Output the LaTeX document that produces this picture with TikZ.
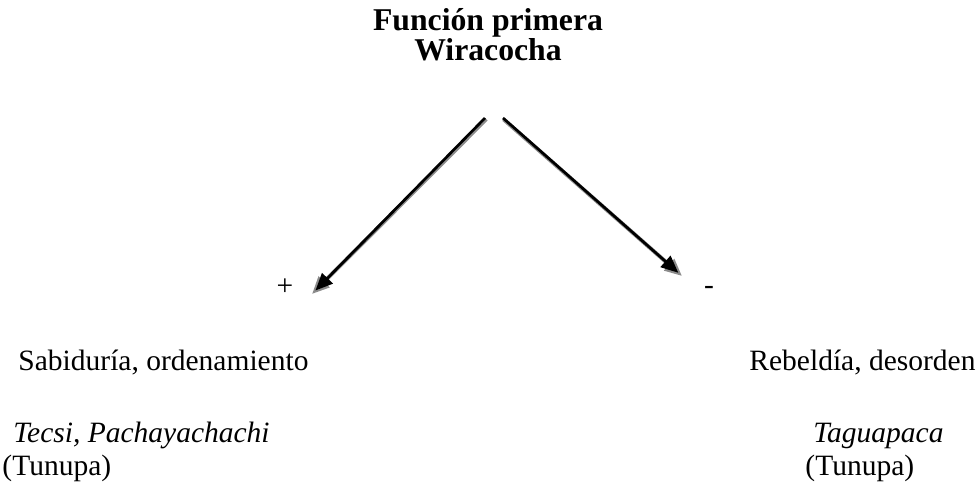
\documentclass[tikz,border=0pt]{standalone}
\usepackage{fontspec}
\setmainfont{Liberation Serif}
\usetikzlibrary{positioning}
\usetikzlibrary{arrows.meta}
\begin{document}
\begin{tikzpicture}[
    x=0.4068pt, y=-0.4068pt,
    label/.style={inner sep=0pt, font=\fontsize{12}{14}\selectfont},
    shade line/.style={draw=black!45, line width=1.6pt, -{Triangle[length=7pt, width=6pt]}},
    main line/.style={draw=black, line width=1.1pt, -{Triangle[length=7pt, width=6pt]}, shorten >=2pt}
  ]
    \useasboundingbox (0,0) rectangle (979,483);

    % Title
    \node[label, align=center, font=\fontsize{12.9}{12.2}\selectfont\bfseries] (titulo) at (488,35) {Funci\'on primera\\Wiracocha};

    % Signs
    \node[label] (mas) at (285,287) {+};
    \node[label] (menos) at (709,290) {-};

    % Arrows
    \coordinate (izqA) at (485,118);
    \coordinate (izqB) at (312,294);
    \coordinate (derA) at (503,118);
    \coordinate (derB) at (682,276);

    \draw[shade line] ([shift={(1.2,1.2)}]izqA) -- (izqB);
    \draw[main line] (izqA) -- (izqB);
    \draw[shade line] ([shift={(0.6,1.4)}]derA) -- (derB);
    \draw[main line] (derA) -- (derB);

    % Left side
    \node[label, anchor=base west] (sabiduria) at (18,370) {Sabidur\'ia, ordenamiento};
    \node[label, anchor=base west] (tecsi) at (13,442) {\itshape Tecsi, Pachayachachi};
    \node[label, anchor=base west] (tunupaI) at (2,475) {(Tunupa)};

    % Right side
    \node[label, anchor=base east] (rebeldia) at (976,370) {Rebeld\'ia, desorden};
    \node[label, anchor=base west] (taguapaca) at (813,442) {\itshape Taguapaca};
    \node[label, anchor=base west] (tunupaD) at (805,475) {(Tunupa)};
  \end{tikzpicture}
\end{document}
